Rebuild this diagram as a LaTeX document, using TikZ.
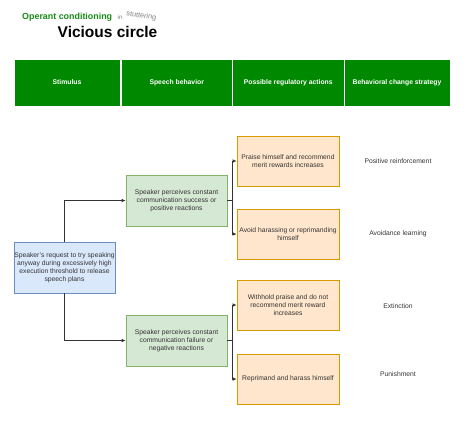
\documentclass[tikz,border=0pt]{standalone}
\usepackage{fontspec}
\setmainfont{Liberation Sans}
\usetikzlibrary{arrows.meta}
\definecolor{hdrgreen}{RGB}{0,136,0}
\definecolor{ttlgreen}{RGB}{20,140,20}
\definecolor{txt}{RGB}{51,51,51}
\definecolor{bluefill}{RGB}{218,232,252}
\definecolor{bluedraw}{RGB}{108,142,191}
\definecolor{greenfill}{RGB}{213,232,212}
\definecolor{greendraw}{RGB}{130,179,102}
\definecolor{orfill}{RGB}{255,230,204}
\definecolor{ordraw}{RGB}{215,155,0}
\tikzset{
  hdr/.style={draw=white, line width=0.6pt, fill=hdrgreen, text=white, font=\fontsize{6.8}{8}\selectfont\bfseries, minimum height=47pt, inner sep=0pt, align=center},
  box/.style={line width=0.7pt, minimum height=51pt, minimum width=101pt, inner sep=0pt, align=center, text=txt, font=\fontsize{6.75}{8}\selectfont},
  stimbox/.style={box, draw=bluedraw, fill=bluefill},
  percbox/.style={box, draw=greendraw, fill=greenfill},
  actbox/.style={box, draw=ordraw, fill=orfill, minimum height=50pt, minimum width=102pt},
  lbl/.style={text=txt, font=\fontsize{6.75}{8}\selectfont, inner sep=0pt},
  arr/.style={draw=txt, line width=0.7pt, -{Latex[length=4pt,width=3.6pt]}},
  ln/.style={draw=txt, line width=0.7pt}
}
\begin{document}
\begin{tikzpicture}[x=1pt,y=-1pt]
\useasboundingbox (0,0) rectangle (474,424);
% title
\node[anchor=base west, inner sep=0pt, text=ttlgreen, font=\fontsize{8.9}{10}\selectfont\bfseries] (t1) at (22,19.5) {Operant conditioning};
\node[anchor=base west, inner sep=0pt, text=gray, font=\fontsize{6.3}{7}\selectfont] (t2) at (117.5,19) {in};
\node[anchor=base west, inner sep=0pt, text=gray, font=\fontsize{7.3}{8}\selectfont, rotate=-9] (t3) at (126,15.5) {stuttering};
\node[anchor=base west, inner sep=0pt, text=black, font=\fontsize{15.5}{17}\selectfont\bfseries] (t4) at (57.5,37.5) {Vicious circle};
% header
\node[hdr, minimum width=106pt] (h1) at (67,82.5) {Stimulus};
\node[hdr, minimum width=111.5pt] (h2) at (176.75,82.5) {Speech behavior};
\node[hdr, minimum width=111.5pt] (h3) at (288.25,82.5) {Possible regulatory actions};
\node[hdr, minimum width=106pt] (h4) at (397,82.5) {Behavioral change strategy};
% stimulus
\node[stimbox] (s) at (64.5,267.5) {Speaker's request to try speaking\\anyway during excessively high\\execution threshold to release\\speech plans};
% perceptions
\node[percbox] (g1) at (176.5,200.5) {Speaker perceives constant\\communication success or\\positive reactions};
\node[percbox] (g2) at (176.5,340.5) {Speaker perceives constant\\communication failure or\\negative reactions};
% actions
\node[actbox] (o1) at (288,161) {Praise himself and recommend\\merit rewards increases};
\node[actbox] (o2) at (288,234) {Avoid harassing or reprimanding\\himself};
\node[actbox] (o3) at (288,305) {Withhold praise and do not\\recommend merit reward\\increases};
\node[actbox] (o4) at (288,379) {Reprimand and harass himself};
% strategy labels
\node[lbl] (l1) at (398,161) {Positive reinforcement};
\node[lbl] (l2) at (398,233.5) {Avoidance learning};
\node[lbl] (l3) at (398,306.5) {Extinction};
\node[lbl] (l4) at (398,374) {Punishment};
% connectors
\draw[arr] (s.north) |- (g1.west);
\draw[arr] (s.south) |- (g2.west);
\coordinate (j1) at (232,200.5);
\coordinate (j2) at (232,340.5);
\draw[ln] (g1.east) -- (j1);
\draw[arr] (j1) |- (o1.west);
\draw[arr] (j1) |- (o2.west);
\draw[ln] (g2.east) -- (j2);
\draw[arr] (j2) |- (o3.west);
\draw[arr] (j2) |- (o4.west);
\end{tikzpicture}
\end{document}
